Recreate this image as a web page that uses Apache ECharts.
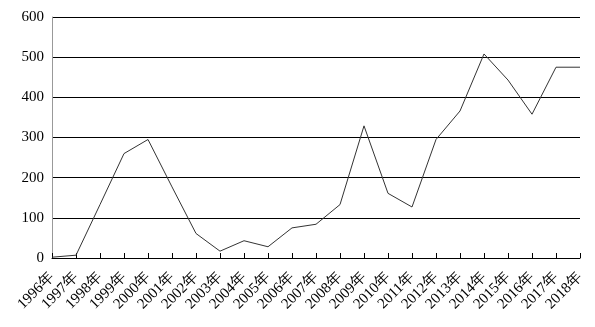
<!DOCTYPE html>
<html>
<head>
<meta charset="utf-8">
<script src="https://cdn.jsdelivr.net/npm/echarts@6/dist/echarts.min.js"></script>
<style>
  html, body { margin: 0; padding: 0; background: #fff; }
  #main { width: 595px; height: 327px; }
</style>
</head>
<body>
<div id="main"></div>
<script>
  var years = ['1996年', '1997年', '1998年', '1999年', '2000年', '2001年', '2002年', '2003年',
    '2004年', '2005年', '2006年', '2007年', '2008年', '2009年', '2010年', '2011年',
    '2012年', '2013年', '2014年', '2015年', '2016年', '2017年', '2018年'];
  var values = [2, 7, 133, 260, 295, 177, 61, 17, 43, 28, 75, 84, 133, 329, 161, 127,
    295, 366, 508, 443, 358, 475, 475];

  var font = '"Liberation Serif", "Times New Roman", serif';
  var chart = echarts.init(document.getElementById('main'));
  chart.setOption({
    animation: false,
    grid: { left: 52, right: 15, top: 17, bottom: 69 },
    xAxis: {
      type: 'category',
      data: years,
      boundaryGap: false,
      axisLine: { lineStyle: { color: '#000', width: 1 } },
      axisTick: { show: true, inside: true, length: 5, lineStyle: { color: '#000' } },
      axisLabel: { rotate: 45, color: '#000', fontFamily: font, fontSize: 15, margin: 17, interval: 0 }
    },
    yAxis: {
      type: 'value',
      min: 0,
      max: 600,
      interval: 100,
      axisLine: { show: true, lineStyle: { color: '#999' } },
      axisTick: { show: false },
      axisLabel: { color: '#000', fontFamily: font, fontSize: 15, margin: 8 },
      splitLine: { lineStyle: { color: '#000', width: 1 } }
    },
    series: [{
      type: 'line',
      data: values,
      symbol: 'none',
      lineStyle: { color: '#333', width: 1 }
    }]
  });
</script>
</body>
</html>
